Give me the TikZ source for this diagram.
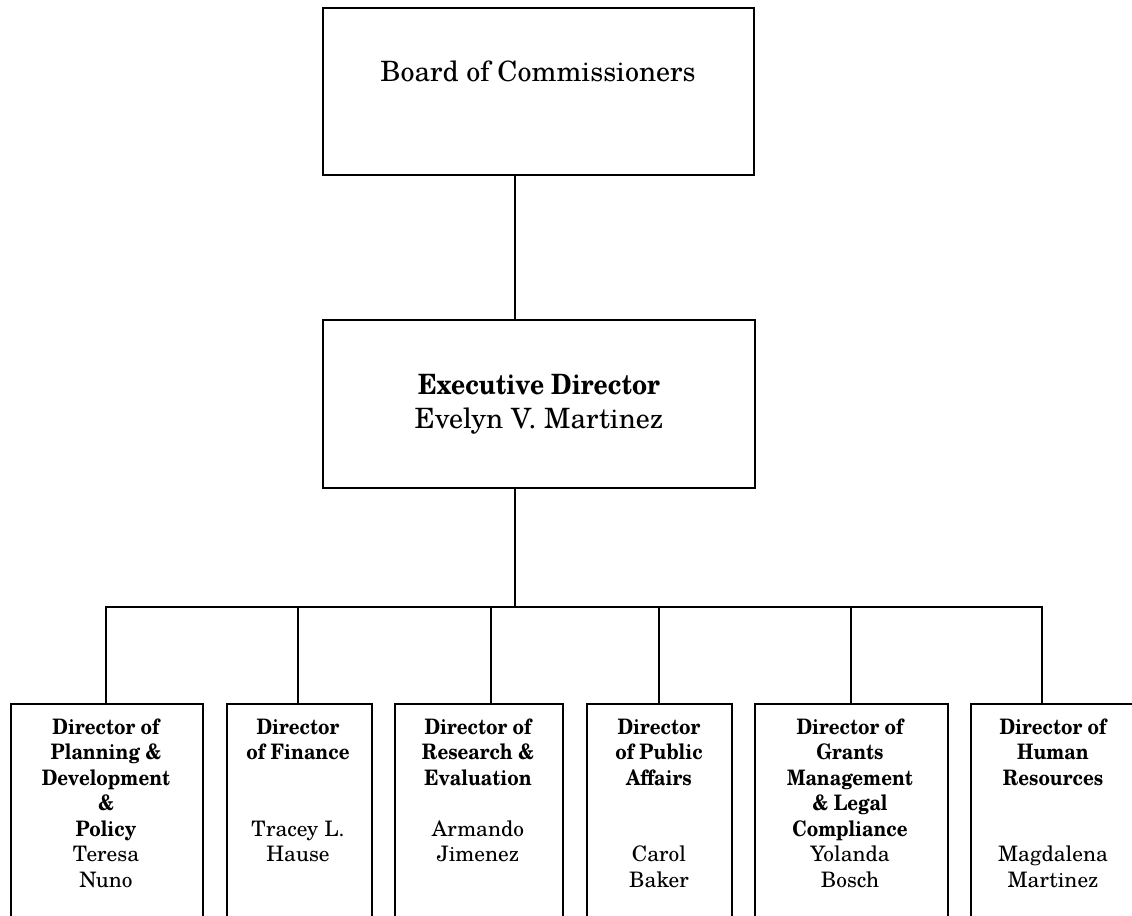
\documentclass[tikz,border=0pt]{standalone}
\usepackage{fontspec}
\setmainfont{TeX Gyre Schola}[BoldFeatures={FakeStretch=0.88}]
\tikzset{
  x=0.75pt, y=-0.75pt,
  orgbox/.style={draw=black, line width=1.5pt, rectangle, inner sep=0pt, anchor=north west},
  link/.style={draw=black, line width=1.5pt, line join=miter},
  bigreg/.style={anchor=base, inner sep=0pt, font=\fontsize{21}{25}\selectfont},
  bigbold/.style={anchor=base, inner sep=0pt, font=\fontsize{21}{25}\selectfont\bfseries},
  boldline/.style={anchor=base, inner sep=0pt, font=\fontsize{16}{19}\selectfont\bfseries},
  nameline/.style={anchor=base, inner sep=0pt, font=\fontsize{16}{19}\selectfont},
}
\newcommand\orgrect[5]{\node[orgbox, minimum width={(#4-#2)*0.75pt}, minimum height={(#5-#3)*0.75pt}] (#1) at (#2,#3) {};}
\newcommand\dirtext[5]{%
  \foreach \l [count=\i from 0] in {#3} \node[boldline] (#1b\i) at ({#2},{734+\i*25.5}) {\l};
  \foreach \l [count=\i from 0] in {#5} \node[nameline] (#1n\i) at ({#2},{734+(#4+\i)*25.5}) {\l};
}
\begin{document}
\begin{tikzpicture}
\useasboundingbox (0,0) rectangle (1132,916);
\clip (0,0) rectangle (1132,916);
% boxes
\orgrect{board}{322}{7}{753}{174}
\orgrect{exec}{322}{319}{754}{487}
\orgrect{d1}{10}{703}{202}{950}
\orgrect{d2}{226}{703}{371}{950}
\orgrect{d3}{394}{703}{562}{950}
\orgrect{d4}{586}{703}{731}{950}
\orgrect{d5}{754}{703}{947}{950}
\orgrect{d6}{970}{703}{1136}{950}
% texts
\node[bigreg] (boardtxt) at (538,82) {Board of Commissioners};
\node[bigbold] (exectxt) at (539,394) {Executive Director};
\node[bigreg] (execname) at (539,428) {Evelyn V. Martinez};
\dirtext{p}{106}{Director of, Planning \&, Development, \&, Policy}{5}{Teresa, Nuno}
\dirtext{f}{298}{Director, of Finance}{4}{Tracey L., Hause}
\dirtext{r}{478}{Director of, Research \&, Evaluation}{4}{Armando, Jimenez}
\dirtext{a}{659}{Director, of Public, Affairs}{5}{Carol, Baker}
\dirtext{g}{850}{Director of, Grants, Management, \& Legal, Compliance}{5}{Yolanda, Bosch}
\dirtext{h}{1053}{Director of, Human, Resources}{5}{Magdalena, Martinez}
% connectors
\coordinate (trunk) at (514.5,607);
\coordinate (c1) at (106,607);
\coordinate (c2) at (298,607);
\coordinate (c3) at (491,607);
\coordinate (c4) at (659,607);
\coordinate (c5) at (851,607);
\coordinate (c6) at (1042,607);
\draw[link] (board.south -| trunk) -- (exec.north -| trunk);
\draw[link] (exec.south -| trunk) -- (trunk);
\draw[link] (d1.north -| c1) -- (c1) -- (c6) -- (d6.north -| c6);
\draw[link] (c2) -- (d2.north -| c2);
\draw[link] (c3) -- (d3.north -| c3);
\draw[link] (c4) -- (d4.north -| c4);
\draw[link] (c5) -- (d5.north -| c5);
\end{tikzpicture}
\end{document}
